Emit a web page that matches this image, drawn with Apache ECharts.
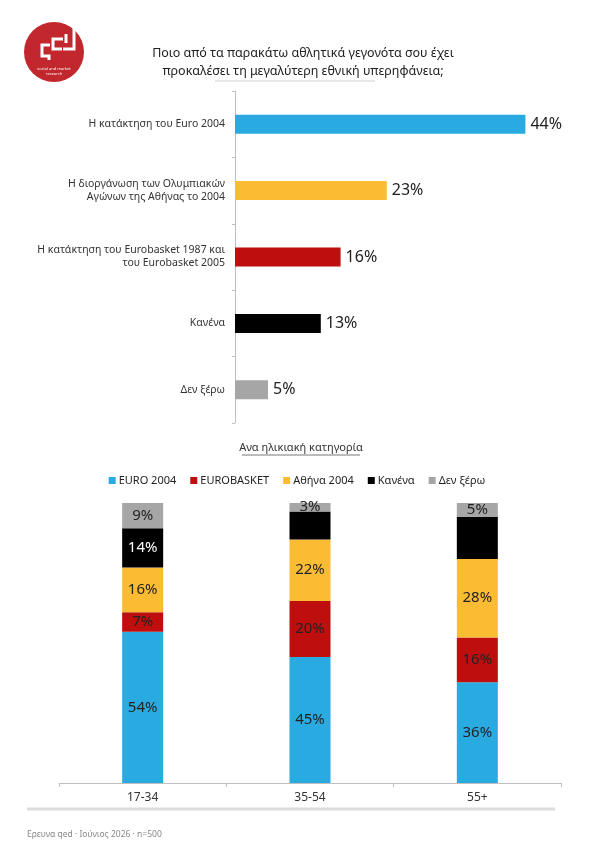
<!DOCTYPE html>
<html>
<head>
<meta charset="utf-8">
<script src="https://cdn.jsdelivr.net/npm/echarts@6/dist/echarts.min.js"></script>
<style>
html,body{margin:0;padding:0;background:#fff;}
#chart{width:594px;height:844px;}
</style>
</head>
<body>
<div id="chart"></div>
<script>
// ---- Data ----
var titleText = 'Ποιο από τα παρακάτω αθλητικά γεγονότα σου έχει\nπροκαλέσει τη μεγαλύτερη εθνική υπερηφάνεια;';
var topCategories = [
  'Η κατάκτηση του Euro 2004',
  'Η διοργάνωση των Ολυμπιακών\nΑγώνων της Αθήνας το 2004',
  'Η κατάκτηση του Eurobasket 1987 και\nτου Eurobasket 2005',
  'Κανένα',
  'Δεν ξέρω'
];
var topValues = [44, 23, 16, 13, 5];

var subTitleText = 'Ανα ηλικιακή κατηγορία';
var ageGroups = ['17-34', '35-54', '55+'];
var seriesNames = ['EURO 2004', 'EUROBASKET', 'Αθήνα 2004', 'Κανένα', 'Δεν ξέρω'];
var euro2004 = [54, 45, 36];
var eurobasket = [7, 20, 16];
var athens2004 = [16, 22, 28];
var none = [14, 10, 15];
var dontKnow = [9, 3, 5];
var noneLabelShown = [true, false, false];
var footerText = 'Ερευνα qed · Ιούνιος 2026 · n=500';

// ---- Styling ----
var FONT = 'Noto Sans';
var C_BLUE = '#29ABE2', C_RED = '#BE0E0E', C_YEL = '#FBBC33', C_BLK = '#000000', C_GRY = '#A6A6A6';
var topColors = [C_BLUE, C_YEL, C_RED, C_BLK, C_GRY];
var stackColors = [C_BLUE, C_RED, C_YEL, C_BLK, C_GRY];

var chart = echarts.init(document.getElementById('chart'), null, {renderer: 'canvas'});

var stackData = [euro2004, eurobasket, athens2004, none, dontKnow];
var stackSeries = stackData.map(function (arr, si) {
  return {
    name: seriesNames[si],
    type: 'bar',
    xAxisIndex: 1,
    yAxisIndex: 1,
    stack: 'age',
    barWidth: 41,
    itemStyle: {color: stackColors[si]},
    label: {
      show: true,
      position: 'inside',
      fontFamily: FONT,
      fontSize: 15,
      color: si === 3 ? '#ffffff' : '#222222',
      formatter: '{c}%'
    },
    data: arr.map(function (v, i) {
      if (si === 3 && !noneLabelShown[i]) {
        return {value: v, label: {show: false}};
      }
      return v;
    })
  };
});

var option = {
  animation: false,
  backgroundColor: '#ffffff',
  textStyle: {fontFamily: FONT},
  title: {
    text: titleText,
    left: 298,
    top: 39,
    textAlign: 'center',
    textStyle: {fontFamily: FONT, fontSize: 12.5, fontWeight: 'normal', color: '#222', lineHeight: 18}
  },
  legend: {
    top: 470,
    left: 'center',
    itemWidth: 7,
    itemHeight: 7,
    itemGap: 14,
    icon: 'rect',
    data: seriesNames,
    textStyle: {fontFamily: FONT, fontSize: 11, color: '#222', padding: [0, 0, 0, -2]}
  },
  grid: [
    {left: 235, top: 91, width: 330, height: 332},
    {left: 59, top: 503, width: 502, height: 280}
  ],
  xAxis: [
    {gridIndex: 0, type: 'value', min: 0, max: 50, show: false},
    {
      gridIndex: 1, type: 'category', data: ageGroups,
      axisLine: {lineStyle: {color: '#bfbfbf', width: 1}},
      axisTick: {show: true, length: 4, lineStyle: {color: '#bfbfbf'}},
      axisLabel: {fontFamily: FONT, fontSize: 12, color: '#333', margin: 9}
    }
  ],
  yAxis: [
    {
      gridIndex: 0, type: 'category', data: topCategories, inverse: true,
      axisLine: {lineStyle: {color: '#bfbfbf', width: 1}},
      axisTick: {show: true, length: 3, lineStyle: {color: '#bfbfbf'}},
      axisLabel: {fontFamily: FONT, fontSize: 10.5, color: '#333', margin: 10, lineHeight: 13}
    },
    {gridIndex: 1, type: 'value', min: 0, max: 100, show: false}
  ],
  series: [
    {
      type: 'bar',
      xAxisIndex: 0,
      yAxisIndex: 0,
      barWidth: 19,
      data: topValues.map(function (v, i) {
        return {value: v, itemStyle: {color: topColors[i]}};
      }),
      label: {
        show: true,
        position: 'right',
        distance: 5,
        fontFamily: FONT,
        fontSize: 16,
        color: '#222',
        formatter: '{c}%'
      }
    }
  ].concat(stackSeries),
  graphic: [
    // logo
    {type: 'circle', shape: {cx: 54, cy: 52, r: 30}, style: {fill: '#C1272D'}},
    {type: 'polyline', shape: {points: [[50, 45], [42, 45], [42, 56], [49, 56], [49, 60]]},
      style: {stroke: '#fff', lineWidth: 3, fill: null}},
    {type: 'polyline', shape: {points: [[63, 39], [53, 39], [53, 49], [62, 49]]},
      style: {stroke: '#fff', lineWidth: 3, fill: null}},
    {type: 'polyline', shape: {points: [[66, 34], [66, 43]]},
      style: {stroke: '#fff', lineWidth: 3, fill: null}},
    {type: 'polyline', shape: {points: [[74, 28], [74, 49], [63, 49]]},
      style: {stroke: '#fff', lineWidth: 3, fill: null}},
    {type: 'text', style: {text: 'social and market\nresearch', x: 54, y: 66, textAlign: 'center',
      fontSize: 4, lineHeight: 5, fill: '#fff', fontFamily: FONT}},
    // line under title
    {type: 'line', shape: {x1: 215, y1: 81, x2: 375, y2: 81}, style: {stroke: '#d0d0d0', lineWidth: 1}},
    // subtitle with underline
    {type: 'text', style: {text: subTitleText, x: 301, y: 448, textAlign: 'center', textVerticalAlign: 'middle',
      fontFamily: FONT, fontSize: 11, fill: '#333'}},
    {type: 'line', shape: {x1: 242, y1: 455, x2: 360, y2: 455}, style: {stroke: '#555', lineWidth: 0.8}},
    // bottom grey bar
    {type: 'line', shape: {x1: 27, y1: 809, x2: 555, y2: 809}, style: {stroke: '#dcdcdc', lineWidth: 3}},
    // footer
    {type: 'text', style: {text: footerText, x: 27, y: 835, textVerticalAlign: 'middle',
      fontFamily: FONT, fontSize: 8.5, fill: '#888'}}
  ]
};
chart.setOption(option);
</script>
</body>
</html>
